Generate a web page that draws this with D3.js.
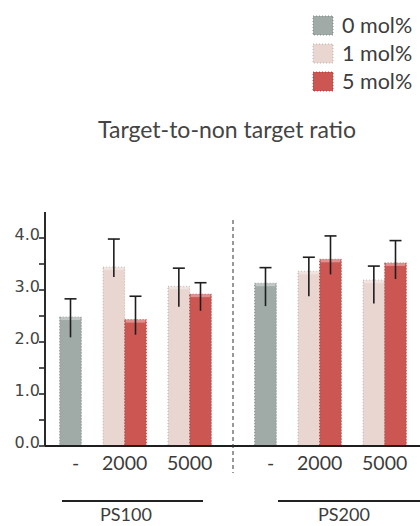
<!DOCTYPE html>
<html>
<head>
<meta charset="utf-8">
<script src="https://cdn.jsdelivr.net/npm/d3@7"></script>
<style>
  html, body { margin: 0; padding: 0; background: #fff; }
  svg { display: block; }
</style>
</head>
<body>
<svg id="chart" width="420" height="526"></svg>
<script>
// ---- data ----
const panels = ["PS100", "PS200"];
const mwGroups = ["-", "2000", "5000"];
const series = ["0 mol%", "1 mol%", "5 mol%"];
const seriesColors = ["#a0aaa7", "#e9d6d1", "#cc5652"];
const seriesEdge = ["#6f7876", "#b9a29c", "#8e3330"];

// one row per bar: panel, MW group, series, mean, upper whisker, lower whisker
const barPanel  = ["PS100", "PS100", "PS100", "PS100", "PS100", "PS200", "PS200", "PS200", "PS200", "PS200"];
const barGroup  = ["-", "2000", "2000", "5000", "5000", "-", "2000", "2000", "5000", "5000"];
const barSeries = ["0 mol%", "1 mol%", "5 mol%", "1 mol%", "5 mol%", "0 mol%", "1 mol%", "5 mol%", "1 mol%", "5 mol%"];
const barValue  = [2.48, 3.44, 2.43, 3.07, 2.92, 3.13, 3.36, 3.59, 3.19, 3.52];
const barErrHi  = [2.83, 3.98, 2.88, 3.42, 3.14, 3.43, 3.63, 4.04, 3.46, 3.95];
const barErrLo  = [2.09, 3.25, 2.14, 2.68, 2.60, 2.69, 2.88, 3.30, 2.74, 3.21];

const yTicks = [0, 1, 2, 3, 4];
const yMinorTicks = [0.5, 1.5, 2.5, 3.5];
const yTickLabels = ["0.0", "1.0", "2.0", "3.0", "4.0"];
const titleText = "Target-to-non target ratio";

const bars = barValue.map((v, i) => ({
  panel: barPanel[i], group: barGroup[i], series: barSeries[i],
  value: v, hi: barErrHi[i], lo: barErrLo[i]
}));

// ---- layout ----
const svg = d3.select("#chart");
const textColor = "#3c3c3c";
const axisX = 45;
const y = d3.scaleLinear().domain([0, 4.5]).range([446, 212]);

const panelScale = d3.scaleBand().domain(panels).range([38, 428]).padding(0);

// slots inside a panel: a spacer before each MW group, then one slot per bar present
function slotsFor(panel) {
  const keys = [];
  mwGroups.forEach((g, gi) => {
    keys.push("gap" + gi);
    bars.filter(b => b.panel === panel && b.group === g)
        .forEach(b => keys.push(g + "|" + b.series));
  });
  keys.push("gapEnd");
  return keys;
}
const slotScales = {};
panels.forEach(p => {
  const x0 = panelScale(p);
  slotScales[p] = d3.scaleBand().domain(slotsFor(p)).range([x0, x0 + panelScale.bandwidth()]).padding(0);
});
const barX = b => slotScales[b.panel](b.group + "|" + b.series);
const barW = p => slotScales[p].bandwidth();
function groupCenter(panel, group) {
  const inGroup = bars.filter(b => b.panel === panel && b.group === group);
  const x0 = d3.min(inGroup, barX), x1 = d3.max(inGroup, b => barX(b) + barW(panel));
  return (x0 + x1) / 2;
}
const colorOf = d3.scaleOrdinal().domain(series).range(seriesColors);
const edgeOf = d3.scaleOrdinal().domain(series).range(seriesEdge);

// ---- bars ----
svg.append("g").selectAll("rect").data(bars).join("rect")
  .attr("x", barX)
  .attr("y", d => y(d.value))
  .attr("width", d => barW(d.panel))
  .attr("height", d => y(0) - y(d.value))
  .attr("fill", d => colorOf(d.series))
  .attr("stroke", d => edgeOf(d.series))
  .attr("stroke-width", 0.8)
  .attr("stroke-dasharray", "1,2");

// lighter rim at the top of each bar
svg.append("g").selectAll("rect").data(bars).join("rect")
  .attr("x", d => barX(d) + 1)
  .attr("y", d => y(d.value))
  .attr("width", d => barW(d.panel) - 2)
  .attr("height", 3)
  .attr("fill", "#fff")
  .attr("opacity", 0.35);

// ---- error bars ----
const eb = svg.append("g").attr("stroke", "#1e1e1e").attr("stroke-width", 1.6);
eb.selectAll("line.v").data(bars).join("line").attr("class", "v")
  .attr("x1", d => barX(d) + barW(d.panel) / 2)
  .attr("x2", d => barX(d) + barW(d.panel) / 2)
  .attr("y1", d => y(d.hi))
  .attr("y2", d => y(d.lo));
eb.selectAll("line.cap").data(bars).join("line").attr("class", "cap")
  .attr("x1", d => barX(d) + barW(d.panel) / 2 - 6)
  .attr("x2", d => barX(d) + barW(d.panel) / 2 + 6)
  .attr("y1", d => y(d.hi))
  .attr("y2", d => y(d.hi));

// ---- y axis ----
const yAxis = svg.append("g");
yAxis.append("line")
  .attr("x1", axisX).attr("x2", axisX)
  .attr("y1", y(4.5)).attr("y2", y(0))
  .attr("stroke", "#2a2a2a").attr("stroke-width", 2);
yAxis.selectAll("line.major").data(yTicks).join("line").attr("class", "major")
  .attr("x1", axisX - 6).attr("x2", axisX)
  .attr("y1", d => y(d)).attr("y2", d => y(d))
  .attr("stroke", "#2a2a2a").attr("stroke-width", 1.6);
yAxis.selectAll("line.minor").data(yMinorTicks).join("line").attr("class", "minor")
  .attr("x1", axisX - 6).attr("x2", axisX)
  .attr("y1", d => y(d)).attr("y2", d => y(d))
  .attr("stroke", "#2a2a2a").attr("stroke-width", 1.6);
yAxis.selectAll("text").data(yTicks).join("text")
  .attr("x", axisX - 5)
  .attr("y", d => y(d) + 2)
  .attr("text-anchor", "end")
  .attr("font-family", "DejaVu Sans")
  .attr("font-size", 16)
  .attr("fill", "#444")
  .text((d, i) => yTickLabels[i]);

// ---- x axis baseline ----
svg.append("line")
  .attr("x1", axisX).attr("x2", 420)
  .attr("y1", y(0)).attr("y2", y(0))
  .attr("stroke", "#1e1e1e").attr("stroke-width", 2);

// dashed divider between the two panels
svg.append("line")
  .attr("x1", panelScale("PS200")).attr("x2", panelScale("PS200"))
  .attr("y1", 220).attr("y2", 473)
  .attr("stroke", "#333").attr("stroke-width", 1)
  .attr("stroke-dasharray", "4,3");

// ---- MW group labels ----
const groupLabels = [];
panels.forEach(p => mwGroups.forEach(g => groupLabels.push({ panel: p, group: g })));
svg.append("g").selectAll("text").data(groupLabels).join("text")
  .attr("x", d => groupCenter(d.panel, d.group) + (d.group === "-" ? 5 : 0))
  .attr("y", 470)
  .attr("text-anchor", "middle")
  .attr("font-family", "Lato")
  .attr("font-size", 19.5)
  .attr("fill", textColor)
  .text(d => d.group);

// ---- panel labels with underline ----
const panelLine = { PS100: [62, 203], PS200: [278, 430] };
const panelLabelX = { PS100: 126, PS200: 344 };
panels.forEach(p => {
  svg.append("line")
    .attr("x1", panelLine[p][0]).attr("x2", panelLine[p][1])
    .attr("y1", 501).attr("y2", 501)
    .attr("stroke", "#222").attr("stroke-width", 2);
  svg.append("text")
    .attr("x", panelLabelX[p]).attr("y", 521)
    .attr("text-anchor", "middle")
    .attr("font-family", "Lato")
    .attr("font-size", 18)
    .attr("fill", textColor)
    .text(p);
});

// ---- title ----
svg.append("text")
  .attr("x", 227).attr("y", 138)
  .attr("text-anchor", "middle")
  .attr("font-family", "Lato")
  .attr("font-size", 23)
  .attr("fill", "#444")
  .text(titleText);

// ---- legend ----
const legend = svg.append("g").selectAll("g").data(series).join("g")
  .attr("transform", (d, i) => `translate(313, ${16 + i * 28})`);
legend.append("rect")
  .attr("width", 20).attr("height", 19)
  .attr("fill", d => colorOf(d))
  .attr("stroke", d => edgeOf(d))
  .attr("stroke-width", 0.8)
  .attr("stroke-dasharray", "1,2");
legend.append("text")
  .attr("x", 29).attr("y", 17)
  .attr("font-family", "Lato")
  .attr("font-size", 21.5)
  .attr("fill", textColor)
  .text(d => d);
</script>
</body>
</html>
